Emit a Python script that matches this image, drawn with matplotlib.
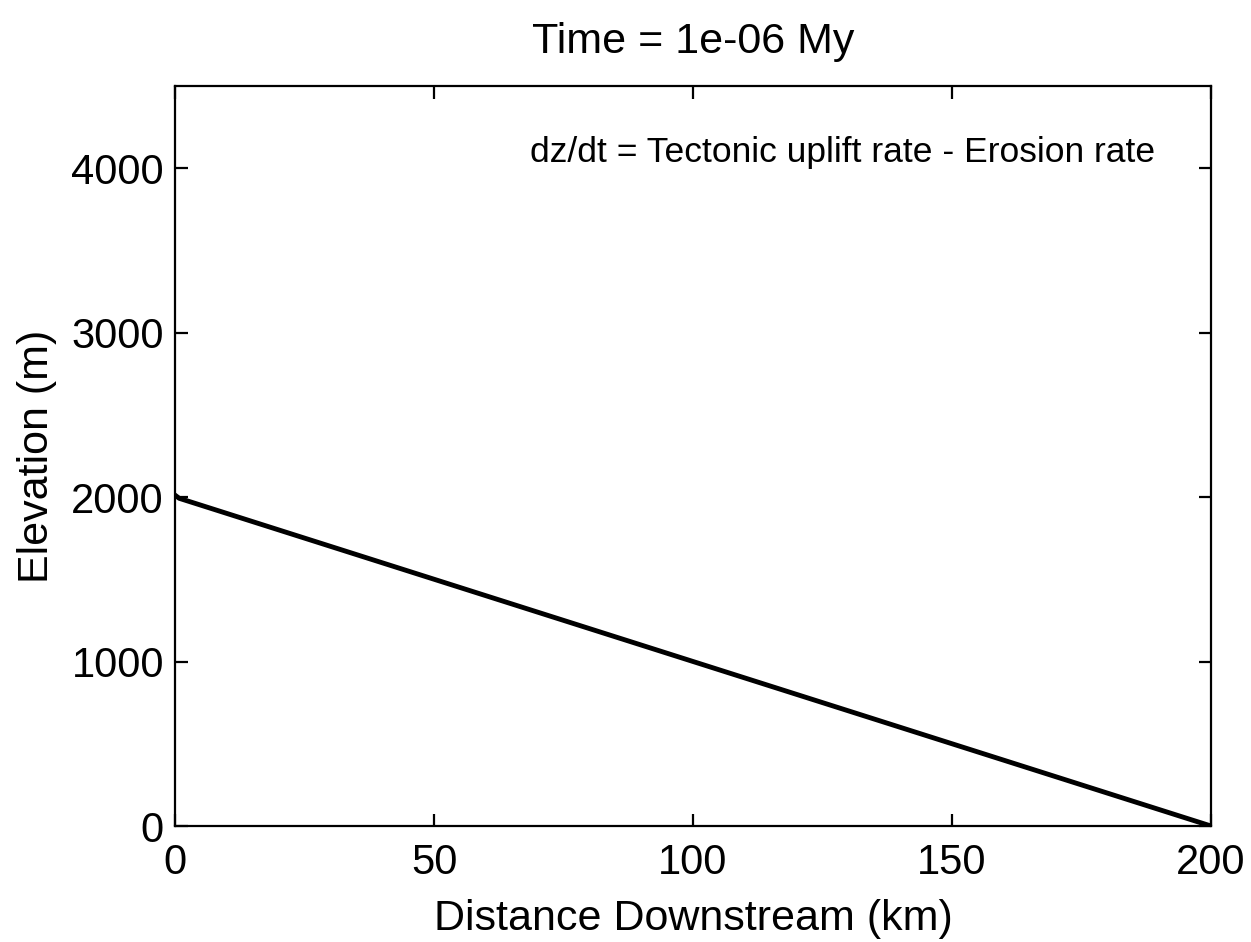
import matplotlib
matplotlib.use("Agg")
import matplotlib.pyplot as plt

# river profile at the first time step
distance_km = [0, 0.8, 200]
elevation_m = [2012, 1993, 0]

time_my = "1e-06"
x_ticks = [0, 50, 100, 150, 200]
y_ticks = [0, 1000, 2000, 3000, 4000]

plt.rcParams['font.family'] = ['Liberation Sans', 'DejaVu Sans']

fig = plt.figure(figsize=(12.51, 9.42), dpi=100)
ax = fig.add_axes([0.1399, 0.1231, 0.8282, 0.7856])

ax.plot(distance_km, elevation_m, color='black', linewidth=3.5)

ax.set_xlim(0, 200)
ax.set_ylim(0, 4500)
ax.set_xticks(x_ticks)
ax.set_yticks(y_ticks)
ax.tick_params(direction='in', top=True, right=True, length=9, width=1.6,
               labelsize=30, pad=8)
ax.tick_params(axis='x', pad=12)
for s in ax.spines.values():
    s.set_linewidth(1.6)

ax.set_xlabel('Distance Downstream (km)', fontsize=31, labelpad=12)
ax.set_ylabel('Elevation (m)', fontsize=31, labelpad=10)
ax.set_title('Time = ' + time_my + ' My', fontsize=31, pad=24)

ax.text(189.2, 4097, 'dz/dt = Tectonic uplift rate - Erosion rate',
        fontsize=25.5, ha='right', va='center',
        family=['Liberation Sans Narrow', 'Liberation Sans'])

fig.savefig('out.png', dpi=100)
